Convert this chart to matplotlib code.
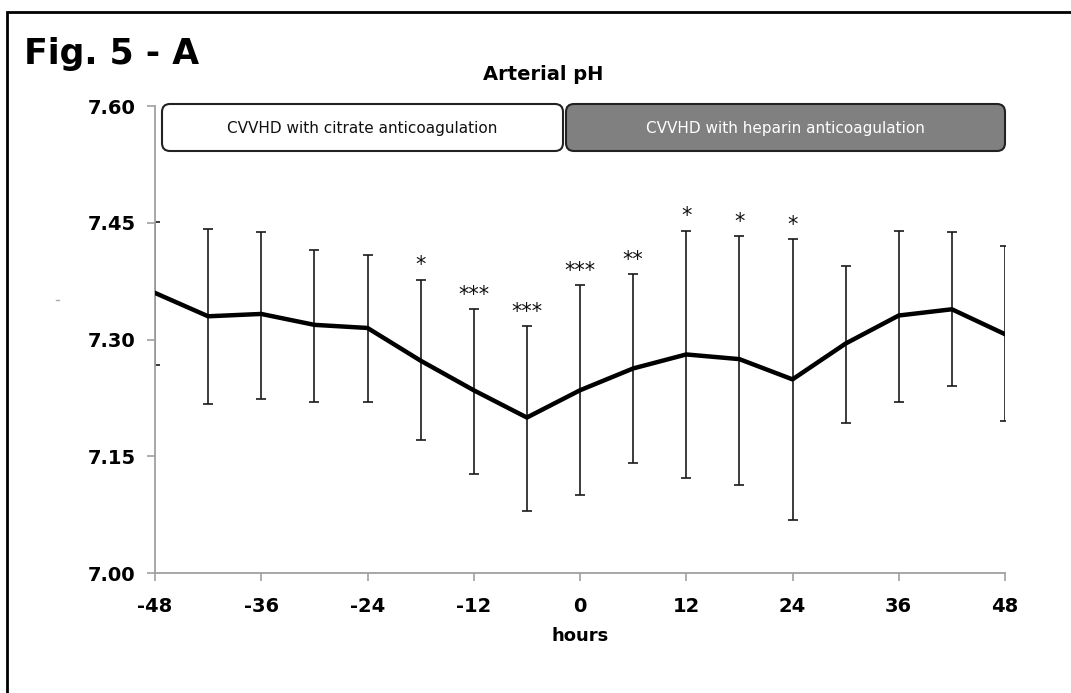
import matplotlib
matplotlib.use("Agg")
import matplotlib.pyplot as plt
from matplotlib.patches import FancyBboxPatch, Rectangle
from matplotlib.lines import Line2D
from matplotlib.transforms import IdentityTransform

hours = [-48, -42, -36, -30, -24, -18, -12, -6, 0, 6, 12, 18, 24, 30, 36, 42, 48]
ph_mean = [7.360, 7.330, 7.333, 7.319, 7.315, 7.273, 7.235, 7.200, 7.235,
           7.263, 7.281, 7.275, 7.249, 7.295, 7.331, 7.339, 7.307]
ph_upper = [7.451, 7.442, 7.438, 7.415, 7.409, 7.377, 7.339, 7.317, 7.370,
            7.384, 7.440, 7.433, 7.429, 7.395, 7.440, 7.438, 7.420]
ph_lower = [7.267, 7.218, 7.224, 7.220, 7.220, 7.171, 7.128, 7.080, 7.101,
            7.141, 7.123, 7.114, 7.069, 7.193, 7.220, 7.240, 7.196]
significance = ["", "", "", "", "", "*", "***", "***", "***", "**", "*", "*", "*",
                "", "", "", ""]
x_ticks = [-48, -36, -24, -12, 0, 12, 24, 36, 48]
y_ticks = [7.00, 7.15, 7.30, 7.45, 7.60]
phase_labels = ["CVVHD with citrate anticoagulation", "CVVHD with heparin anticoagulation"]

W, H = 1071, 693
fig = plt.figure(figsize=(W / 100, H / 100), dpi=100)
ax = fig.add_axes([155 / W, (H - 573.3) / H, 850 / W, 467.3 / H])

err_lo = [m - l for m, l in zip(ph_mean, ph_lower)]
err_hi = [u - m for m, u in zip(ph_mean, ph_upper)]
ax.errorbar(hours, ph_mean, yerr=[err_lo, err_hi], fmt="none", ecolor="#1a1a1a",
            elinewidth=1.2, capsize=3.6, capthick=1.2, zorder=2)
ax.plot(hours, ph_mean, color="black", lw=3.2, solid_joinstyle="round", zorder=3)

for h, u, s in zip(hours, ph_upper, significance):
    if s:
        ax.annotate(s, (h, u), xytext=(0, 6), textcoords="offset points",
                    ha="center", va="baseline", fontsize=15, color="#111111",
                    annotation_clip=False)

ax.set_xlim(-48, 48)
ax.set_ylim(7.00, 7.60)
ax.set_xticks(x_ticks)
ax.set_xticklabels([str(t) for t in x_ticks])
ax.set_yticks(y_ticks)
ax.set_yticklabels([f"{t:.2f}" for t in y_ticks])
for lab in ax.get_xticklabels() + ax.get_yticklabels():
    lab.set_fontweight("bold")
    lab.set_fontsize(14)
ax.tick_params(axis="both", direction="out", length=6, width=1.2, color="#a0a0a0")
ax.tick_params(axis="x", pad=11)
ax.tick_params(axis="y", pad=8)
for side in ["top", "right"]:
    ax.spines[side].set_visible(False)
for side in ["left", "bottom"]:
    ax.spines[side].set_color("#a0a0a0")
    ax.spines[side].set_linewidth(1.3)
ax.set_xlabel("hours", fontsize=13, fontweight="bold", labelpad=8)

ident = IdentityTransform()
# phase boxes (pixel coordinates)
b1 = FancyBboxPatch((162, H - 151), 401, 47, boxstyle="round,pad=0,rounding_size=8",
                    transform=ident, facecolor="white", edgecolor="#222222", lw=1.5,
                    clip_on=False)
b2 = FancyBboxPatch((566, H - 151), 439, 47, boxstyle="round,pad=0,rounding_size=8",
                    transform=ident, facecolor="#808080", edgecolor="#222222", lw=1.5,
                    clip_on=False)
fig.add_artist(b1)
fig.add_artist(b2)
fig.text(362.5 / W, (H - 128) / H, phase_labels[0], ha="center", va="center",
         fontsize=11, color="#111111")
fig.text(785.5 / W, (H - 128) / H, phase_labels[1], ha="center", va="center",
         fontsize=11, color="white")

fig.text(543 / W, (H - 74) / H, "Arterial pH", ha="center", va="center",
         fontsize=14, fontweight="bold")
fig.text(24 / W, (H - 64) / H, "Fig. 5 - A", ha="left", va="baseline",
         fontsize=25, fontweight="bold")

# outer frame (left and top edges visible)
frame = Rectangle((7, -20), W + 40, H + 20 - 12, transform=ident, fill=False,
                  edgecolor="black", lw=2, clip_on=False)
fig.add_artist(frame)
fig.add_artist(Line2D([56, 59], [H - 300, H - 300], transform=ident, color="#aaaaaa", lw=1))

fig.savefig("out.png", dpi=100)
